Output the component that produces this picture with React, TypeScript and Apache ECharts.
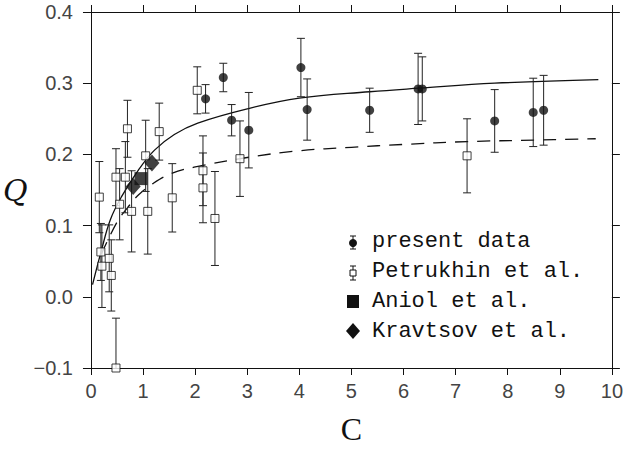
import React, { useEffect, useRef } from "react";
import * as echarts from "echarts";

// present data (filled circles)
const presentC = [2.20, 2.54, 2.70, 3.03, 4.03, 4.15, 5.35, 6.28, 6.36, 7.75, 8.49, 8.69];
const presentQ = [0.278, 0.308, 0.248, 0.234, 0.322, 0.263, 0.262, 0.292, 0.292, 0.247, 0.259, 0.262];
const presentErr = [0.020, 0.020, 0.022, 0.053, 0.041, 0.043, 0.031, 0.050, 0.045, 0.044, 0.048, 0.049];

// Petrukhin et al. (open squares)
const petC = [0.16, 0.19, 0.21, 0.35, 0.39, 0.48, 0.48, 0.55, 0.66, 0.70, 0.78, 1.05, 1.09, 1.31, 1.56, 2.04, 2.15, 2.15, 2.38, 2.86, 7.22];
const petQ = [0.140, 0.063, 0.043, 0.054, 0.030, -0.100, 0.168, 0.130, 0.168, 0.236, 0.120, 0.198, 0.120, 0.232, 0.139, 0.290, 0.177, 0.153, 0.110, 0.194, 0.198];
const petErr = [0.050, 0.040, 0.058, 0.047, 0.050, 0.070, 0.040, 0.050, 0.050, 0.040, 0.057, 0.050, 0.060, 0.040, 0.048, 0.033, 0.049, 0.049, 0.066, 0.053, 0.052];

// Aniol et al. (filled square)
const aniolC = [0.96];
const aniolQ = [0.166];

// Kravtsov et al. (filled diamonds)
const kravC = [0.81, 1.17];
const kravQ = [0.155, 0.188];

// solid curve
const solidC = [0.03, 0.2, 0.37, 0.59, 0.91, 1.22, 1.6, 2.05, 3.0, 4.0, 5.35, 6.3, 7.75, 9.74];
const solidQ = [0.017, 0.065, 0.108, 0.141, 0.178, 0.206, 0.228, 0.244, 0.264, 0.279, 0.288, 0.293, 0.300, 0.305];

// dashed curve
const dashC = [0.2, 0.5, 0.7, 0.91, 1.19, 1.54, 1.98, 3.03, 3.98, 5.0, 6.0, 7.22, 8.5, 9.69];
const dashQ = [0.060, 0.105, 0.125, 0.143, 0.159, 0.173, 0.182, 0.196, 0.205, 0.210, 0.214, 0.218, 0.220, 0.222];

const xTicks = [0, 1, 2, 3, 4, 5, 6, 7, 8, 9, 10];
const yTickLabels: Record<string, string> = {
  "-0.1": "\u22120.1",
  "0": "0.0",
  "0.1": "0.1",
  "0.2": "0.2",
  "0.3": "0.3",
  "0.4": "0.4",
};

const INK = "#111";

function errBarSeries(cs: number[], qs: number[], es: number[]) {
  return {
    type: "custom",
    clip: true,
    silent: true,
    data: cs.map((c, i) => [c, qs[i], es[i]]),
    renderItem: (params: any, api: any) => {
      const x = api.value(0);
      const y = api.value(1);
      const e = api.value(2);
      const top = api.coord([x, y + e]);
      const bot = api.coord([x, y - e]);
      const hw = 4;
      const style = { stroke: "#222", lineWidth: 1 };
      return {
        type: "group",
        children: [
          { type: "line", shape: { x1: top[0], y1: top[1], x2: bot[0], y2: bot[1] }, style },
          { type: "line", shape: { x1: top[0] - hw, y1: top[1], x2: top[0] + hw, y2: top[1] }, style },
          { type: "line", shape: { x1: bot[0] - hw, y1: bot[1], x2: bot[0] + hw, y2: bot[1] }, style },
        ],
      };
    },
    z: 2,
  };
}

export default function App() {
  const ref = useRef<HTMLDivElement>(null);
  useEffect(() => {
    if (!ref.current) return;
    const chart = echarts.init(ref.current, undefined, { renderer: "svg" });
    const labelFont = { fontFamily: "Liberation Sans", fontSize: 20, color: "#444" };
    const axisCommon = {
      min: 0,
      max: 10,
      interval: 1,
      axisLine: { show: true, onZero: false, lineStyle: { color: INK, width: 1 } },
      axisTick: { show: true, inside: false, length: 7, lineStyle: { color: INK, width: 1 } },
      splitLine: { show: false },
    };
    const yCommon = {
      min: -0.1,
      max: 0.4,
      interval: 0.1,
      axisLine: { show: true, onZero: false, lineStyle: { color: INK, width: 1 } },
      axisTick: { show: true, inside: false, length: 8, lineStyle: { color: INK, width: 1 } },
      splitLine: { show: false },
    };
    const legendX = 353;
    const rows = [241, 271, 301, 331];
    const textStyle = (t: string, y: number) => ({
      type: "text",
      style: {
        text: t,
        x: 372,
        y,
        fill: INK,
        font: '22px "Liberation Mono"',
        verticalAlign: "middle",
        align: "left",
      },
    });
    chart.setOption({
      animation: false,
      backgroundColor: "#fff",
      grid: { left: 89, right: 9, top: 12, bottom: 76, containLabel: false },
      xAxis: [
        {
          ...axisCommon,
          type: "value",
          position: "bottom",
          name: "C",
          nameLocation: "middle",
          nameGap: 45,
          nameTextStyle: { fontFamily: "Liberation Serif", fontSize: 32, color: INK },
          axisLabel: {
            ...labelFont,
            margin: 13,
            formatter: (v: number) => (xTicks.includes(v) ? String(v) : ""),
          },
        },
        {
          ...axisCommon,
          type: "value",
          position: "top",
          axisLabel: { show: false },
        },
      ],
      yAxis: [
        {
          ...yCommon,
          type: "value",
          position: "left",
          name: "Q",
          nameLocation: "middle",
          nameRotate: 0,
          nameGap: 52,
          nameTextStyle: { fontFamily: "DejaVu Serif", fontStyle: "italic", fontSize: 30, color: INK },
          axisLabel: {
            ...labelFont,
            margin: 18,
            formatter: (v: number) => {
              const k = String(Math.round(v * 10) / 10);
              return yTickLabels[k] ?? "";
            },
          },
        },
        {
          ...yCommon,
          type: "value",
          position: "right",
          axisLabel: { show: false },
        },
      ],
      series: [
        {
          type: "line",
          data: solidC.map((c, i) => [c, solidQ[i]]),
          smooth: 0.4,
          showSymbol: false,
          lineStyle: { color: INK, width: 1.3, type: "solid" },
          silent: true,
          z: 1,
        },
        {
          type: "line",
          data: dashC.map((c, i) => [c, dashQ[i]]),
          smooth: 0.4,
          showSymbol: false,
          lineStyle: { color: INK, width: 1.3, type: [13, 9] },
          silent: true,
          z: 1,
        },
        errBarSeries(presentC, presentQ, presentErr),
        errBarSeries(petC, petQ, petErr),
        {
          type: "scatter",
          data: petC.map((c, i) => [c, petQ[i]]),
          symbol: "rect",
          symbolSize: 8,
          itemStyle: { color: "#fff", borderColor: INK, borderWidth: 1 },
          clip: false,
          z: 3,
        },
        {
          type: "scatter",
          data: presentC.map((c, i) => [c, presentQ[i]]),
          symbol: "circle",
          symbolSize: 9,
          itemStyle: { color: INK },
          z: 4,
        },
        {
          type: "scatter",
          data: aniolC.map((c, i) => [c, aniolQ[i]]),
          symbol: "rect",
          symbolSize: 13,
          itemStyle: { color: INK },
          z: 5,
        },
        {
          type: "scatter",
          data: kravC.map((c, i) => [c, kravQ[i]]),
          symbol: "diamond",
          symbolSize: [15, 17],
          itemStyle: { color: INK },
          z: 5,
        },
      ],
      graphic: [
        // present data icon
        { type: "line", shape: { x1: legendX, y1: 236, x2: legendX, y2: 249 }, style: { stroke: INK, lineWidth: 1 } },
        { type: "line", shape: { x1: legendX - 3, y1: 236, x2: legendX + 3, y2: 236 }, style: { stroke: INK, lineWidth: 1 } },
        { type: "line", shape: { x1: legendX - 3, y1: 249, x2: legendX + 3, y2: 249 }, style: { stroke: INK, lineWidth: 1 } },
        { type: "circle", shape: { cx: legendX, cy: 243, r: 4 }, style: { fill: INK } },
        // Petrukhin icon
        { type: "line", shape: { x1: legendX, y1: 266, x2: legendX, y2: 280 }, style: { stroke: INK, lineWidth: 1 } },
        { type: "line", shape: { x1: legendX - 3, y1: 266, x2: legendX + 3, y2: 266 }, style: { stroke: INK, lineWidth: 1 } },
        { type: "line", shape: { x1: legendX - 3, y1: 280, x2: legendX + 3, y2: 280 }, style: { stroke: INK, lineWidth: 1 } },
        { type: "rect", shape: { x: legendX - 3, y: 270, width: 6, height: 6 }, style: { fill: "#fff", stroke: INK, lineWidth: 1 } },
        // Aniol icon
        { type: "rect", shape: { x: legendX - 6, y: 295, width: 12, height: 13 }, style: { fill: INK } },
        // Kravtsov icon
        {
          type: "polygon",
          shape: { points: [[legendX, 323], [legendX + 7, 331], [legendX, 339], [legendX - 7, 331]] },
          style: { fill: INK },
        },
        textStyle("present data", rows[0]),
        textStyle("Petrukhin et al.", rows[1]),
        textStyle("Aniol et al.", rows[2]),
        textStyle("Kravtsov et al.", rows[3]),
      ],
    });
    return () => chart.dispose();
  }, []);
  return <div ref={ref} style={{ width: 626, height: 450, position: "absolute", left: 0, top: 0 }} />;
}
